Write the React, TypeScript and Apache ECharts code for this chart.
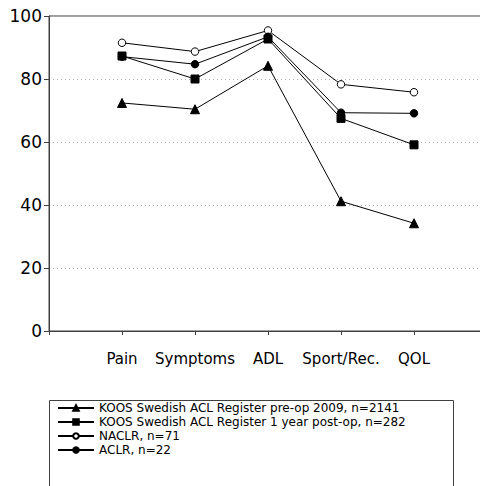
import React, { useEffect, useRef } from "react";
import * as echarts from "echarts";

const categories = ["Pain", "Symptoms", "ADL", "Sport/Rec.", "QOL"];
const seriesNames = [
  "KOOS Swedish ACL Register pre-op 2009, n=2141",
  "KOOS Swedish ACL Register 1 year post-op, n=282",
  "NACLR, n=71",
  "ACLR, n=22",
];
const preOp2009 = [72.4, 70.4, 84.2, 41.2, 34.2];
const postOp1Year = [87.3, 80.0, 92.7, 67.5, 59.1];
const naclr = [91.5, 88.7, 95.4, 78.3, 75.8];
const aclr = [87.1, 84.7, 93.4, 69.3, 69.1];
const yTicks = [0, 20, 40, 60, 80, 100];

const FONT = "DejaVu Sans";

export default function App() {
  const ref = useRef<HTMLDivElement>(null);
  useEffect(() => {
    document.body.style.margin = "0";
    const chart = echarts.init(ref.current!, undefined, { renderer: "svg" });
    const toPts = (vals: number[]) => categories.map((_, i) => [i + 1, vals[i]]);
    const mk = (name: string, vals: number[], symbol: string, size: number, fill: string) => ({
      name,
      type: "line",
      data: toPts(vals),
      symbol,
      symbolSize: size,
      showAllSymbol: true,
      lineStyle: { color: "#000", width: 1 },
      itemStyle: { color: fill, borderColor: "#000", borderWidth: 1 },
      emphasis: { disabled: true },
    });
    chart.setOption({
      animation: false,
      backgroundColor: "#fff",
      grid: {
        left: 49,
        top: 16,
        width: 438,
        height: 315,
        containLabel: false,
        outerBoundsMode: "none",
        show: true,
        borderColor: "#404040",
        borderWidth: 1,
      },
      xAxis: {
        type: "value",
        min: 0,
        max: 6,
        interval: 1,
        axisLine: { lineStyle: { color: "#404040", width: 1 } },
        axisTick: { show: true, length: 4, lineStyle: { color: "#404040" } },
        splitLine: { show: false },
        axisLabel: {
          margin: 20,
          fontFamily: FONT,
          fontSize: 15,
          color: "#000",
          formatter: (v: number) => (v >= 1 && v <= 5 ? categories[v - 1] : ""),
        },
      },
      yAxis: {
        type: "value",
        min: yTicks[0],
        max: yTicks[yTicks.length - 1],
        interval: 20,
        axisLine: { show: true, lineStyle: { color: "#404040", width: 1 } },
        axisTick: { show: true, length: 5, lineStyle: { color: "#404040" } },
        splitLine: {
          show: true,
          lineStyle: { color: "#b0b0b0", type: [1, 3], width: 1 },
        },
        axisLabel: { margin: 7, fontFamily: FONT, fontSize: 17, color: "#000" },
      },
      legend: {
        orient: "vertical",
        left: 57,
        top: 401,
        itemWidth: 36,
        itemHeight: 7,
        itemGap: 0,
        padding: 0,
        textStyle: {
          fontFamily: FONT,
          fontSize: 12,
          lineHeight: 14,
          color: "#000",
          padding: [0, 0, 0, 0],
        },
        data: seriesNames,
        selectedMode: false,
      },
      graphic: [
        {
          type: "rect",
          shape: { x: 49.5, y: 400.5, width: 404, height: 120 },
          style: { fill: "none", stroke: "#404040", lineWidth: 1 },
          silent: true,
          z: -1,
        },
      ],
      series: [
        mk(seriesNames[0], preOp2009, "triangle", 9, "#000"),
        mk(seriesNames[1], postOp1Year, "rect", 8, "#000"),
        mk(seriesNames[2], naclr, "circle", 7.5, "#fff"),
        mk(seriesNames[3], aclr, "circle", 7.5, "#000"),
      ],
    });
    return () => chart.dispose();
  }, []);
  return <div ref={ref} style={{ width: 480, height: 486 }} />;
}
